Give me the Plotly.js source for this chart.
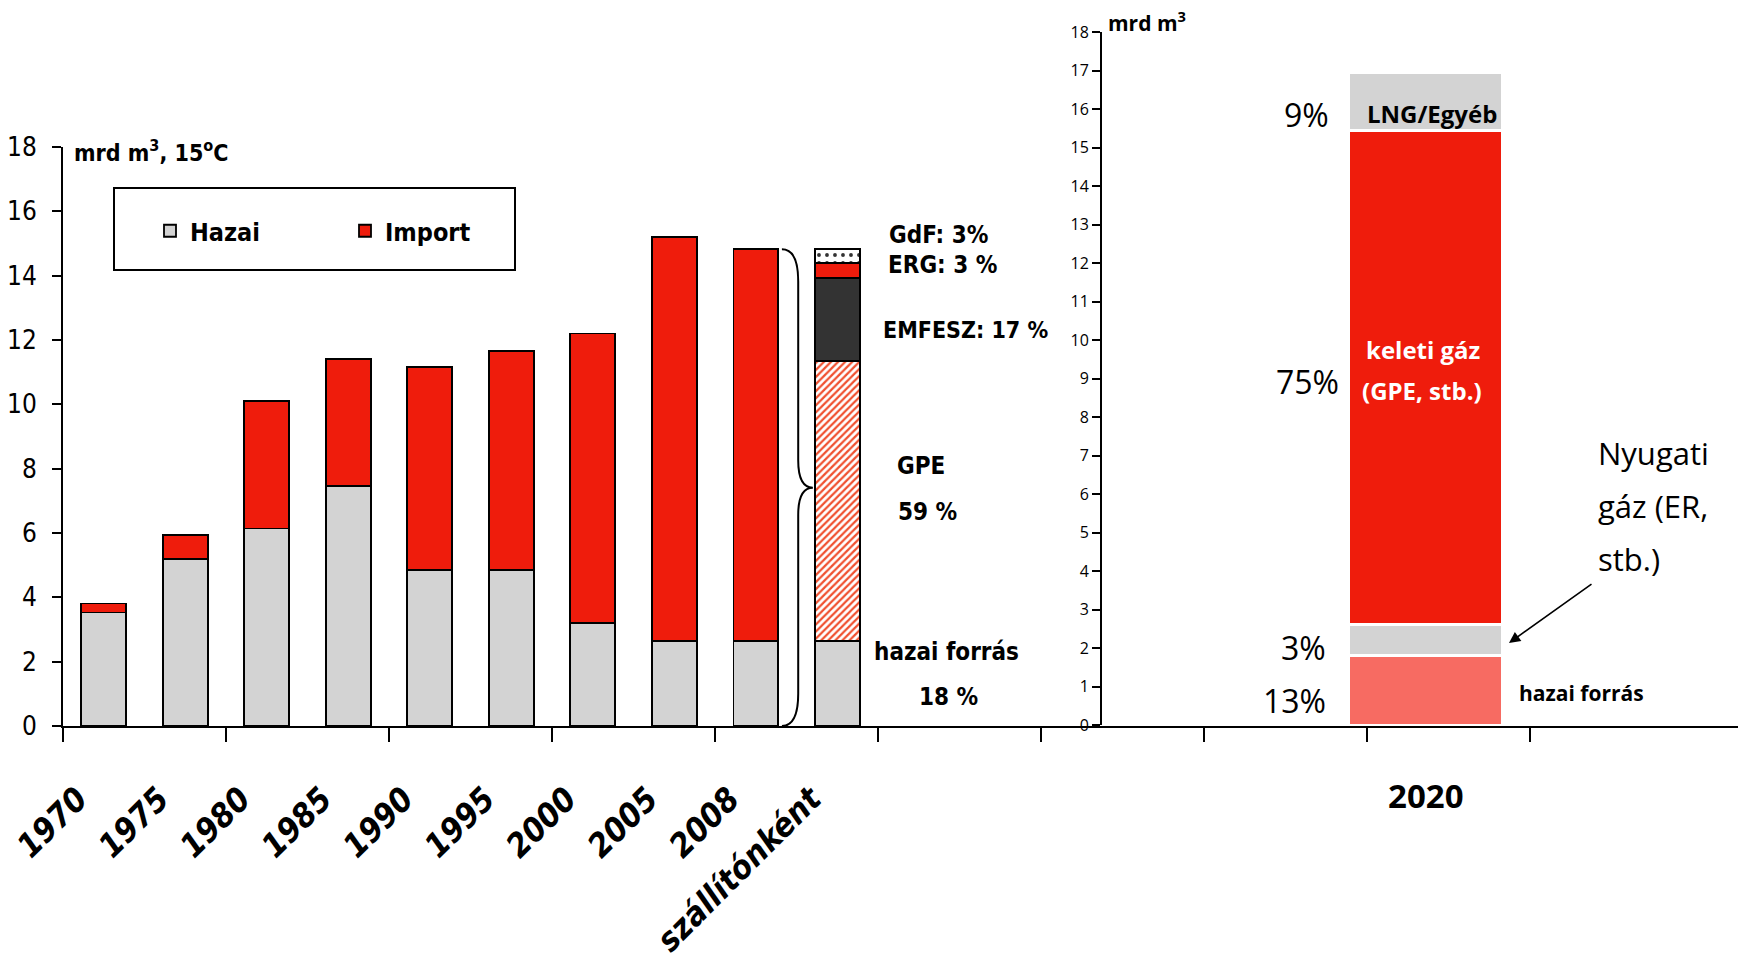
<!DOCTYPE html>
<html><head><meta charset="utf-8">
<script src="https://cdn.plot.ly/plotly-3.0.1.min.js"></script>
<style>html,body{margin:0;padding:0;background:#fff}#chart{width:1738px;height:965px}</style>
</head><body><div id="chart"></div>
<script>
// ---------- data ----------
const categories = ['1970','1975','1980','1985','1990','1995','2000','2005','2008','szállítónként'];
const hazai = [3.53, 5.18, 6.14, 7.46, 4.85, 4.85, 3.19, 2.65, 2.64, 2.64];
const importGas = [0.28, 0.77, 3.96, 3.95, 6.32, 6.80, 9.01, 12.54, 12.18];
const supplierNames = ['GPE', 'EMFESZ', 'ERG', 'GdF'];
const supplierValues = [8.71, 2.57, 0.47, 0.43];
const leftYTicks = [0, 2, 4, 6, 8, 10, 12, 14, 16, 18];

const category2020 = ['2020'];
const segment2020Names = ['hazai forrás', 'Nyugati gáz', 'keleti gáz', 'LNG/Egyéb'];
const segment2020Values = [1.8, 0.82, 12.83, 1.5];
const segment2020Shares = ['13%', '3%', '75%', '9%'];
const rightYTicks = [0,1,2,3,4,5,6,7,8,9,10,11,12,13,14,15,16,17,18];

// ---------- styles ----------
const W = 1738, H = 965;
const px = v => v / W;
const py = v => 1 - v / H;
const NARROW = '"Liberation Sans Narrow", "DejaVu Sans Condensed", sans-serif';
const HUM = '"Open Sans", "Noto Sans", sans-serif';
const RED = '#EF1C0C', GRAY = '#D3D3D3', DARK = '#333333', SALMON = '#F76B62';
const POS2020 = 16.22;          // x position of 2020 bar on the shared axis
const X_RANGE = [-0.5, 20.05];
const leftIdx = categories.map((c, i) => i);
const supIdx = categories.length - 1;
const outline = {color: '#000', width: 1.8};
const LW = 0.55;

const traces = [];
traces.push({type: 'bar', name: 'Hazai', x: leftIdx, y: hazai, width: LW,
  marker: {color: GRAY, line: outline}, hoverinfo: 'y'});
traces.push({type: 'bar', name: 'Import', x: leftIdx.slice(0, importGas.length), y: importGas, width: LW,
  marker: {color: RED, line: outline}, hoverinfo: 'y'});
const supStyles = {
  GPE: {color: 'white', pattern: {shape: '/', fgcolor: '#F0502F', bgcolor: 'white', size: 5, solidity: 0.45}},
  EMFESZ: {color: DARK},
  ERG: {color: RED},
  GdF: {color: 'white', pattern: {shape: '.', fgcolor: '#333', bgcolor: 'white', size: 8, solidity: 0.18}}
};
supplierNames.forEach((n, i) => {
  traces.push({type: 'bar', name: n, x: [supIdx], y: [supplierValues[i]], width: LW, showlegend: false,
    marker: Object.assign({line: outline}, supStyles[n]), hoverinfo: 'name+y'});
});
const col2020 = [SALMON, GRAY, RED, GRAY];
segment2020Names.forEach((n, i) => {
  traces.push({type: 'bar', name: n, x: [POS2020], y: [segment2020Values[i]], width: 1.89,
    xaxis: 'x', yaxis: 'y2', showlegend: false,
    marker: {color: col2020[i], line: {color: 'white', width: 3}}, hoverinfo: 'name+y'});
});
// invisible carriers so the category-label axes get drawn
traces.push({type: 'scatter', mode: 'markers', x: leftIdx, y: hazai, xaxis: 'x2', yaxis: 'y',
  marker: {opacity: 0}, showlegend: false, hoverinfo: 'skip'});
traces.push({type: 'scatter', mode: 'markers', x: [POS2020], y: [segment2020Values[0]], xaxis: 'x3', yaxis: 'y',
  marker: {opacity: 0}, showlegend: false, hoverinfo: 'skip'});

// ---------- annotations ----------
const ann = [];
function txt(text, x, y, opts) {
  ann.push(Object.assign({text: text, xref: 'paper', yref: 'paper', x: px(x), y: py(y),
    showarrow: false, xanchor: 'left', yanchor: 'middle',
    font: {family: NARROW, size: 24, color: '#000', weight: 'bold'}}, opts || {}));
}
txt('mrd m<sup>3</sup>, 15<sup>o</sup>C', 72, 151, {font: {family: NARROW, size: 23, weight: 'bold', color: '#000'}});
txt('GdF: 3%', 887, 235);
txt('ERG: 3 %', 886, 265);
txt('EMFESZ: 17 %', 881, 330, {font: {family: NARROW, size: 23, color: '#000', weight: 'bold'}});
txt('GPE', 895, 466);
txt('59 %', 896, 512);
txt('hazai forrás', 872, 652);
txt('18 %', 917, 697);

const pctFont = {family: HUM, size: 32, color: '#000'};
txt(segment2020Shares[3], 1331, 115, {xanchor: 'right', font: pctFont});
txt(segment2020Shares[2], 1341, 382, {xanchor: 'right', font: pctFont});
txt(segment2020Shares[1], 1328, 647, {xanchor: 'right', font: pctFont});
txt(segment2020Shares[0], 1328, 700, {xanchor: 'right', font: pctFont});
txt('mrd m<sup>3</sup>', 1106, 22, {font: {family: HUM, size: 21, weight: 'bold', color: '#000'}});
txt(segment2020Names[3], 1432, 113, {xanchor: 'center', font: {family: HUM, size: 24, weight: 'bold', color: '#000'}});
txt('keleti gáz', 1423, 350, {xanchor: 'center', font: {family: HUM, size: 24, weight: 'bold', color: '#fff'}});
txt('(GPE, stb.)', 1422, 390, {xanchor: 'center', font: {family: HUM, size: 24, weight: 'bold', color: '#fff'}});
txt(segment2020Names[0], 1517, 693, {font: {family: HUM, size: 21, weight: 'bold', color: '#000'}});
const nyFont = {family: HUM, size: 31, color: '#000'};
txt('Nyugati', 1596, 453, {font: nyFont});
txt('gáz (ER,', 1596, 506, {font: nyFont});
txt('stb.)', 1596, 559, {font: nyFont});
// arrow to the western gas segment
ann.push({xref: 'paper', yref: 'paper', x: px(1509), y: py(643), ax: 84, ay: -60, axref: 'pixel', ayref: 'pixel',
  text: '', showarrow: true, arrowhead: 2, arrowsize: 1.4, arrowwidth: 1.6, arrowcolor: '#000'});

// curly brace next to 2008 bar, derived from its total
const tot2008 = hazai[8] + importGas[8];
const bx0 = 8 + 0.32, bs = 8 + 0.52, bt = 8 + 0.70, mid = tot2008 / 2;
const bracePath = `M ${bx0},${tot2008} Q ${bs},${tot2008} ${bs},${tot2008 - 1.0} L ${bs},${mid + 0.85} ` +
  `Q ${bs},${mid} ${bt},${mid} Q ${bs},${mid} ${bs},${mid - 0.85} L ${bs},1.0 Q ${bs},0 ${bx0},0`;

const shapes = [
  {type: 'path', xref: 'x', yref: 'y', path: bracePath, line: {color: '#000', width: 2}},
  {type: 'rect', xref: 'paper', yref: 'paper', x0: px(114), x1: px(515), y0: py(188), y1: py(270),
   line: {color: '#000', width: 2}, fillcolor: 'rgba(0,0,0,0)'}
];

const tickVals = [];
for (let v = -0.5; v <= 17.5; v += 2) tickVals.push(v);

const layout = {
  width: W, height: H,
  margin: {l: 0, r: 0, t: 0, b: 0},
  paper_bgcolor: '#fff', plot_bgcolor: 'rgba(0,0,0,0)',
  barmode: 'stack', bargap: 0,
  showlegend: true,
  legend: {orientation: 'h', x: px(150), y: py(231), xanchor: 'left', yanchor: 'middle',
    font: {family: NARROW, size: 25, weight: 'bold', color: '#000'}, entrywidth: 150,
    bgcolor: 'rgba(0,0,0,0)', borderwidth: 0, traceorder: 'normal'},
  xaxis: {domain: [px(63), 1], range: X_RANGE, type: 'linear', anchor: 'y',
    tickmode: 'array', tickvals: tickVals, showticklabels: false,
    ticks: 'outside', ticklen: 14, tickwidth: 2, tickcolor: '#000',
    showline: true, linewidth: 2, linecolor: '#000', showgrid: false, zeroline: false, fixedrange: true},
  xaxis2: {overlaying: 'x', anchor: 'y', range: X_RANGE, type: 'linear',
    tickmode: 'array', tickvals: leftIdx, ticktext: categories, tickangle: -45, ticks: '',
    ticklabelstandoff: 46, ticklabelshift: -26,
    tickfont: {family: NARROW, size: 33, weight: 'bold', style: 'italic', color: '#000'},
    showline: false, showgrid: false, zeroline: false},
  xaxis3: {overlaying: 'x', anchor: 'y', range: X_RANGE, type: 'linear',
    tickmode: 'array', tickvals: [POS2020], ticktext: category2020, tickangle: 0, ticks: '',
    ticklabelstandoff: 48,
    tickfont: {family: HUM, size: 33, weight: 'bold', color: '#000'},
    showline: false, showgrid: false, zeroline: false},
  yaxis: {domain: [py(726), py(147)], range: [0, 18], tickmode: 'array', tickvals: leftYTicks,
    ticks: 'outside', ticklen: 9, tickwidth: 2, tickcolor: '#000',
    showline: true, linewidth: 2, linecolor: '#000', showgrid: false, zeroline: false,
    tickfont: {family: NARROW, size: 26, color: '#000'}, ticklabelstandoff: 10},
  yaxis2: {domain: [py(725), py(32)], range: [0, 18], anchor: 'free', position: px(1101), side: 'left',
    tickmode: 'array', tickvals: rightYTicks,
    ticks: 'outside', ticklen: 8, tickwidth: 2, tickcolor: '#000',
    showline: true, linewidth: 2, linecolor: '#000', showgrid: false, zeroline: false,
    tickfont: {family: HUM, size: 16, color: '#000'}},
  annotations: ann,
  shapes: shapes
};

Plotly.newPlot('chart', traces, layout, {displayModeBar: false, staticPlot: true});
</script>
</body></html>
